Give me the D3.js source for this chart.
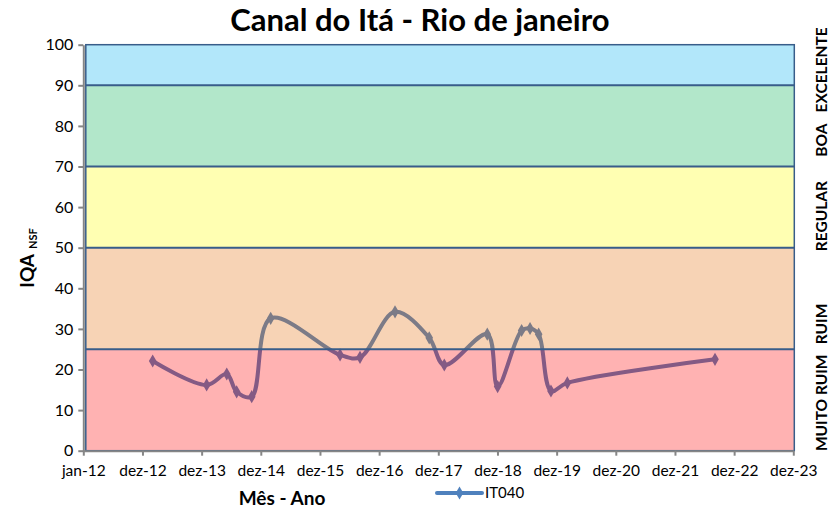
<!DOCTYPE html>
<html>
<head>
<meta charset="utf-8">
<script src="https://cdn.jsdelivr.net/npm/d3@7/dist/d3.min.js"></script>
<style>
  body { margin: 0; background: #fff; }
  text { font-family: Lato, "Open Sans", sans-serif; }
</style>
</head>
<body>
<div id="vis"></div>
<script>
var width = 831;
var height = 509;
var margin = { top: 44.7, left: 83.3, bottom: 58.3, right: 37.7 };

// sampling dates and IQA values of station IT040
var sampleDates = ['2013-03-04', '2014-01-31', '2014-06-04', '2014-08-04', '2014-11-05',
  '2015-03-02', '2016-05-03', '2016-09-03', '2017-04-07', '2017-11-04', '2018-02-05',
  '2018-10-28', '2018-12-31', '2019-05-28', '2019-07-19', '2019-09-10', '2019-11-25',
  '2020-03-05', '2022-09-02'];
var iqaValues = [22.1, 16.2, 18.9, 14.5, 13.3, 32.6, 23.6, 23.0, 34.2, 27.8, 21.1,
  28.7, 15.8, 29.6, 30.1, 28.7, 14.7, 16.7, 22.5];
var seriesName = 'IT040';

var xTickLabels = ['jan-12', 'dez-12', 'dez-13', 'dez-14', 'dez-15', 'dez-16', 'dez-17',
  'dez-18', 'dez-19', 'dez-20', 'dez-21', 'dez-22', 'dez-23'];
var yTicks = [0, 10, 20, 30, 40, 50, 60, 70, 80, 90, 100];

// quality classes
var bandLimits = [0, 25, 50, 70, 90, 100];
var bandNames = ['MUITO RUIM', 'RUIM', 'REGULAR', 'BOA', 'EXCELENTE'];
var bandColors = ['#FF0000', '#E46C0A', '#FFFF00', '#00B050', '#00B0F0'];

// where each class name sits (in IQA units)
var labelAt = [11.8, 31.2, 57.8, 76.5, 93.8];

var parseDate = d3.timeParse('%Y-%m-%d');
var data = sampleDates.map(function (d, i) {
  return { date: parseDate(d), value: iqaValues[i] };
});

// excel axis: 365 day major unit from jan-12
var start = new Date(2012, 0, 1);
var tickDates = xTickLabels.map(function (d, i) { return d3.timeDay.offset(start, i * 365); });

var x = d3.scaleTime()
  .domain([tickDates[0], tickDates[tickDates.length - 1]])
  .range([margin.left, width - margin.right]);

var y = d3.scaleLinear()
  .domain([0, 100])
  .range([height - margin.bottom, margin.top]);

var svg = d3.select('#vis').append('svg')
  .attr('width', width)
  .attr('height', height);

// series first, the translucent bands go over it
var line = d3.line()
  .x(function (d) { return x(d.date); })
  .y(function (d) { return y(d.value); })
  .curve(d3.curveCatmullRom.alpha(0.5));

svg.append('path')
  .datum(data)
  .attr('d', line)
  .attr('fill', 'none')
  .attr('stroke', '#4F81BD')
  .attr('stroke-width', 4)
  .attr('stroke-linejoin', 'round');

var diamond = d3.symbol().type(d3.symbolDiamond).size(50);
svg.selectAll('.marker')
  .data(data)
  .enter().append('path')
  .attr('class', 'marker')
  .attr('transform', function (d) { return 'translate(' + x(d.date) + ',' + y(d.value) + ')'; })
  .attr('d', diamond)
  .attr('fill', '#4F81BD');

var x0 = x.range()[0] + 2.5;
var x1 = x.range()[1] + 1;

var bands = d3.range(bandNames.length).map(function (i) {
  return { lo: bandLimits[i], hi: bandLimits[i + 1], color: bandColors[i], name: bandNames[i], at: labelAt[i] };
});

svg.selectAll('.band')
  .data(bands)
  .enter().append('rect')
  .attr('class', 'band')
  .attr('x', x0)
  .attr('width', x1 - x0)
  .attr('y', function (d) { return y(d.hi); })
  .attr('height', function (d) { return y(d.lo) - y(d.hi); })
  .attr('fill', function (d) { return d.color; })
  .attr('fill-opacity', 0.3);

svg.selectAll('.limit')
  .data(bandLimits.slice(1, -1))
  .enter().append('line')
  .attr('class', 'limit')
  .attr('x1', x0).attr('x2', x1)
  .attr('y1', function (d) { return y(d); })
  .attr('y2', function (d) { return y(d); })
  .attr('stroke', '#385D8A')
  .attr('stroke-width', 2);

svg.append('rect')
  .attr('x', x0)
  .attr('y', y(100))
  .attr('width', x1 - x0)
  .attr('height', y(0) - y(100))
  .attr('fill', 'none')
  .attr('stroke', '#385D8A')
  .attr('stroke-width', 1.5);

// axes
var yAxis = svg.append('g')
  .attr('transform', 'translate(' + margin.left + ',0)')
  .call(d3.axisLeft(y).tickValues(yTicks).tickSize(5).tickPadding(5).tickSizeOuter(0));

var xAxis = svg.append('g')
  .attr('transform', 'translate(0,' + (height - margin.bottom) + ')')
  .call(d3.axisBottom(x).tickValues(tickDates).tickSize(5).tickPadding(9).tickSizeOuter(0)
    .tickFormat(function (d, i) { return xTickLabels[i]; }));

svg.selectAll('.domain, .tick line')
  .attr('stroke', '#868686')
  .attr('stroke-width', 2);

svg.selectAll('.tick text')
  .style('font-family', 'Lato, sans-serif')
  .style('font-size', '16px')
  .attr('fill', '#000');

xAxis.selectAll('.tick text').style('font-size', '15.5px');

// class labels on the right
svg.selectAll('.band-label')
  .data(bands)
  .enter().append('text')
  .attr('class', 'band-label')
  .attr('transform', function (d) { return 'translate(' + (width - 4) + ',' + y(d.at) + ') rotate(-90)'; })
  .attr('text-anchor', 'middle')
  .style('font-size', '15.5px')
  .style('font-weight', 'bold')
  .text(function (d) { return d.name; });

// titles
svg.append('text')
  .attr('x', 420)
  .attr('y', 31)
  .attr('text-anchor', 'middle')
  .style('font-size', '31px')
  .style('font-weight', 'bold')
  .text('Canal do Itá - Rio de janeiro');

var yTitle = svg.append('text')
  .attr('transform', 'translate(34,' + 258 + ') rotate(-90)')
  .attr('text-anchor', 'middle')
  .style('font-weight', 'bold');
yTitle.append('tspan').style('font-size', '19px').text('IQA');
yTitle.append('tspan').style('font-size', '11px').attr('dx', 5).attr('dy', 3).text('NSF');

svg.append('text')
  .attr('x', 282)
  .attr('y', 505)
  .attr('text-anchor', 'middle')
  .style('font-size', '19px')
  .style('font-weight', 'bold')
  .text('Mês - Ano');

// legend
var legend = svg.append('g').attr('transform', 'translate(437,493)');
legend.append('line')
  .attr('x1', 0).attr('x2', 45)
  .attr('stroke', '#4F81BD')
  .attr('stroke-width', 4)
  .attr('stroke-linecap', 'round');
legend.append('path')
  .attr('transform', 'translate(22.5,0)')
  .attr('d', diamond)
  .attr('fill', '#4F81BD');
legend.append('text')
  .attr('x', 48)
  .attr('y', 5)
  .style('font-size', '15px')
  .text(seriesName);
</script>
</body>
</html>
